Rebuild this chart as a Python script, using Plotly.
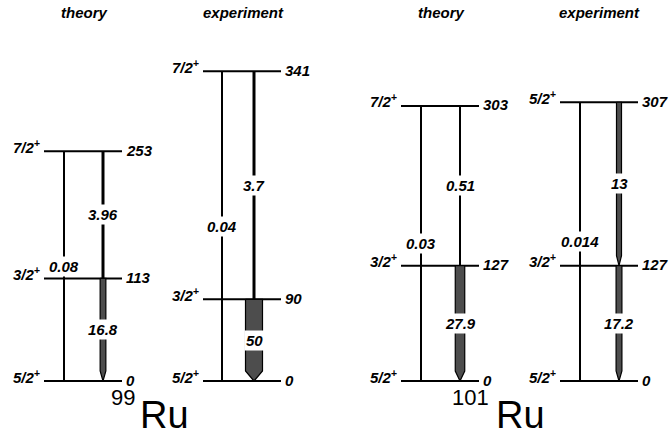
import plotly.graph_objects as go

# ---------------- data ----------------
panel_titles = ["theory", "experiment", "theory", "experiment"]
nuclei_mass = ["99", "101"]
nuclei_elem = ["Ru", "Ru"]

level_spins = [
    ["5/2", "3/2", "7/2"],
    ["5/2", "3/2", "7/2"],
    ["5/2", "3/2", "7/2"],
    ["5/2", "3/2", "5/2"],
]
level_energies = [
    [0, 113, 253],
    [0, 90, 341],
    [0, 127, 303],
    [0, 127, 307],
]
# transitions: (from level idx, to level idx, B(E2) label, column 0=left/1=right)
transitions = [
    [(2, 0, "0.08", 0), (2, 1, "3.96", 1), (1, 0, "16.8", 1)],
    [(2, 0, "0.04", 0), (2, 1, "3.7", 1), (1, 0, "50", 1)],
    [(2, 0, "0.03", 0), (2, 1, "0.51", 1), (1, 0, "27.9", 1)],
    [(2, 0, "0.014", 0), (2, 1, "13", 1), (1, 0, "17.2", 1)],
]

# ---------------- layout constants (pixels) ----------------
W, H = 669, 438
Y0PX = 381.0          # pixel row of E = 0
PX_PER_KEV = 0.908
panel_x0 = [44, 203, 401, 560]
level_len = 78
col_dx = [[20, 59], [19, 51], [20, 59], [20, 59]]
title_x = [84, 243, 441, 599]
head_px = 10

E_top = Y0PX / PX_PER_KEV
E_bot = (Y0PX - H) / PX_PER_KEV

def py_to_paper(p):
    return 1 - p / H

FONT = "Liberation Sans, Arial, Helvetica, sans-serif"
lab_font = dict(family=FONT, size=15, color="black", weight="bold", style="italic")

fig = go.Figure()
annotations = []

for p in range(4):
    x0 = panel_x0[p]
    x1 = x0 + level_len
    # level lines
    for spin, e in zip(level_spins[p], level_energies[p]):
        fig.add_trace(go.Scatter(x=[x0, x1], y=[e, e], mode="lines",
                                 line=dict(color="black", width=2),
                                 hoverinfo="skip", showlegend=False))
        annotations.append(dict(x=x0, y=e, xref="x", yref="y", text=spin + "<sup>+</sup>",
                                showarrow=False, xanchor="right", yanchor="middle",
                                xshift=-2, yshift=5, font=lab_font))
        annotations.append(dict(x=x1, y=e, xref="x", yref="y", text=str(e),
                                showarrow=False, xanchor="left", yanchor="middle",
                                xshift=2, yshift=1, font=lab_font))
    # transitions
    for (fi, ti, lab, col) in transitions[p]:
        e_hi = level_energies[p][fi]
        e_lo = level_energies[p][ti]
        xc = x0 + col_dx[p][col]
        v = float(lab)
        if v >= 10:
            w = max(5.0, 0.34 * v)
            hk = head_px / PX_PER_KEV
            xs = [xc - w / 2, xc + w / 2, xc + w / 2, xc, xc - w / 2, xc - w / 2]
            ys = [e_hi, e_hi, e_lo + hk, e_lo, e_lo + hk, e_hi]
            fig.add_trace(go.Scatter(x=xs, y=ys, mode="lines", fill="toself",
                                     fillcolor="#4d4d4d",
                                     line=dict(color="black", width=1.2),
                                     hoverinfo="skip", showlegend=False))
        else:
            lw = 2 if v < 1 else 3
            fig.add_trace(go.Scatter(x=[xc, xc], y=[e_hi, e_lo], mode="lines",
                                     line=dict(color="black", width=lw),
                                     hoverinfo="skip", showlegend=False))
        annotations.append(dict(x=xc, y=(e_hi + e_lo) / 2, xref="x", yref="y", text=lab,
                                showarrow=False, xanchor="center", yanchor="middle",
                                bgcolor="white", borderpad=1, font=lab_font))
    annotations.append(dict(x=title_x[p], y=py_to_paper(13), xref="x", yref="paper",
                            text=panel_titles[p], showarrow=False,
                            xanchor="center", yanchor="middle", font=lab_font))

# nucleus names
mass_x = [137, 491]
elem_x = [138, 494]
for i in range(2):
    annotations.append(dict(x=mass_x[i], y=py_to_paper(397), xref="x", yref="paper",
                            text=nuclei_mass[i], showarrow=False, xanchor="right",
                            yanchor="middle", font=dict(family=FONT, size=22, color="black")))
    annotations.append(dict(x=elem_x[i], y=py_to_paper(415), xref="x", yref="paper",
                            text=nuclei_elem[i], showarrow=False, xanchor="left",
                            yanchor="middle", font=dict(family=FONT, size=38, color="black")))

fig.update_layout(
    width=W, height=H,
    margin=dict(l=0, r=0, t=0, b=0),
    paper_bgcolor="white", plot_bgcolor="white",
    xaxis=dict(range=[0, W], visible=False, fixedrange=True),
    yaxis=dict(range=[E_bot, E_top], visible=False, fixedrange=True),
    annotations=annotations,
    showlegend=False,
)
fig.write_html("out.html")
